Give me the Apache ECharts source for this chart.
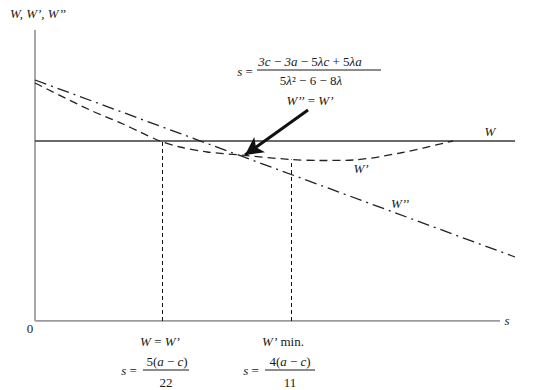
<!DOCTYPE html>
<html><head><meta charset="utf-8">
<script src="https://cdn.jsdelivr.net/npm/echarts@6/dist/echarts.min.js"></script>
<style>html,body{margin:0;padding:0;background:#fff}#c{width:547px;height:390px}</style>
</head><body><div id="c"></div>
<script>
// Data (s in chart units, welfare in chart units)
const sW = [0, 48];
const valW = [18, 18];
const sW2 = [0, 48];
const valW2 = [24.1, 6.4];
const sW1 = [0, 5.5, 8.8, 10.5, 12.5, 14.5, 17.2, 20.5, 25.6, 28.5, 31.8, 36.5, 41.8];
const valW1 = [23.8, 21.1, 19.7, 18.9, 18.0, 17.4, 16.9, 16.6, 16.15, 16.05, 16.1, 16.8, 18.0];
const sEqual = 12.7;   // W = W'
const sMin = 25.6;     // W' min
const valMin = 16.15;
const xAxisEnd = 46.5;
const yAxisTop = 29.1;
const arrowFrom = [27.3, 21.1];
const arrowTo = [21.0, 16.6];

const pair = (xs, ys) => xs.map((x, i) => [x, ys[i]]);
const FONT = '"Liberation Serif", "DejaVu Serif", serif';
const TXT = '#1a1a1a';

const chart = echarts.init(document.getElementById('c'), null, {renderer: 'svg'});
const rich = {
  i: {fontFamily: FONT, fontStyle: 'italic', fontSize: 13, fill: TXT, color: TXT},
  r: {fontFamily: FONT, fontSize: 13, fill: TXT, color: TXT}
};
function txt(x, y, text, opts) {
  return {
    type: 'text', x: x, y: y,
    style: Object.assign({text: text, fontFamily: FONT, fontSize: 13, fill: TXT,
      textAlign: 'center', textVerticalAlign: 'middle', rich: rich}, opts || {})
  };
}
function hline(x1, x2, y) {
  return {type: 'line', shape: {x1: x1, y1: y, x2: x2, y2: y}, style: {stroke: TXT, lineWidth: 1}};
}

chart.setOption({
  animation: false,
  grid: {left: 35, right: 32, top: 30, bottom: 69},
  xAxis: {type: 'value', min: 0, max: 48, show: false},
  yAxis: {type: 'value', min: 0, max: yAxisTop, show: false},
  series: [
    {type: 'line', data: [[0, 0], [xAxisEnd, 0]], symbol: 'none', silent: true,
      lineStyle: {color: '#7a7a7a', width: 1.5}},
    {type: 'line', data: [[0, 0], [0, yAxisTop]], symbol: 'none', silent: true,
      lineStyle: {color: '#a8a8a8', width: 2}},
    {type: 'line', name: 'W', data: pair(sW, valW), symbol: 'none',
      lineStyle: {color: '#3a3a3a', width: 1.5}},
    {type: 'line', name: 'W2', data: pair(sW2, valW2), symbol: 'none',
      lineStyle: {color: '#222', width: 1.3, type: [12, 5, 2, 5]}},
    {type: 'line', name: 'W1', data: pair(sW1, valW1), symbol: 'none', smooth: 0.3,
      lineStyle: {color: '#222', width: 1.3, type: [8, 5]},
      markLine: {
        silent: true, symbol: ['none', 'none'], label: {show: false},
        lineStyle: {color: '#111', width: 1, type: [4, 3]},
        data: [
          [{coord: [sEqual, 0]}, {coord: [sEqual, valW[0]]}],
          [{coord: [sMin, 0]}, {coord: [sMin, valMin]}]
        ]
      }
    },
    {type: 'line', data: [], symbol: 'none',
      markLine: {
        silent: true, symbol: ['none', 'arrow'], symbolSize: [14, 18], label: {show: false},
        lineStyle: {color: '#111', width: 3, type: 'solid'},
        data: [[{coord: arrowFrom}, {coord: arrowTo}]]
      }
    }
  ],
  graphic: [
    txt(38, 13, '{i|W, W’, W’’}'),
    txt(30, 328, '0', {fontSize: 13}),
    txt(507, 320, '{i|s}'),
    txt(490, 131, '{i|W}'),
    txt(361, 168, '{i|W’}'),
    txt(400, 203, '{i|W’’}'),
    // top formula
    txt(245, 71, '{i|s} {r|=}'),
    txt(310, 61, '{i|3c} {r|−} {i|3a} {r|−} {r|5}{i|λc} {r|+} {r|5}{i|λa}'),
    hline(257, 381, 70),
    txt(311, 80, '{r|5}{i|λ}{r|² − 6 − 8}{i|λ}'),
    txt(310, 100, '{i|W’’} {r|=} {i|W’}'),
    // bottom labels
    txt(160, 341, '{i|W} {r|=} {i|W’}'),
    txt(129, 370, '{i|s} {r|=}'),
    txt(167, 361, '{r|5(}{i|a} {r|−} {i|c}{r|)}'),
    hline(143, 189, 370),
    txt(166, 382, '{r|22}'),
    txt(283, 341, '{i|W’} {r|min.}'),
    txt(251, 370, '{i|s} {r|=}'),
    txt(290, 361, '{r|4(}{i|a} {r|−} {i|c}{r|)}'),
    hline(265, 315, 370),
    txt(290, 382, '{r|11}')
  ]
});
</script></body></html>
